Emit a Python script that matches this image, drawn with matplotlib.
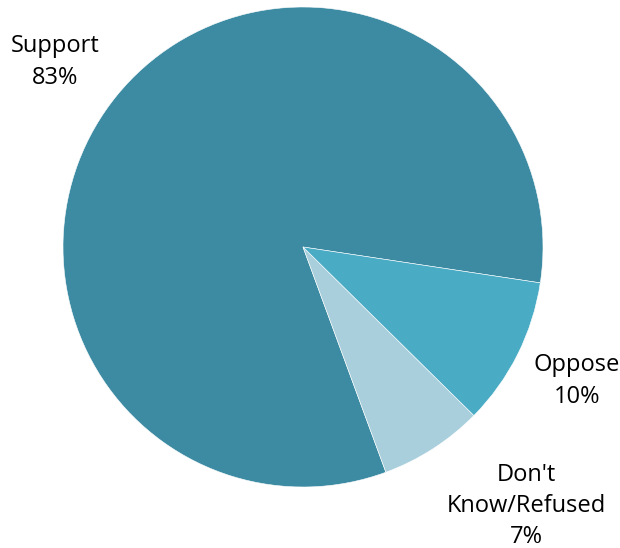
import matplotlib
matplotlib.use("Agg")
import matplotlib.pyplot as plt

plt.rcParams['font.family'] = ['Open Sans', 'DejaVu Sans']

categories = ["Support", "Don't\nKnow/Refused", "Oppose"]
shares = [83, 7, 10]
colors = ["#3c8ba2", "#a9cfdc", "#4aabc5"]

fig = plt.figure(figsize=(6.2, 5.48), dpi=100)
# pie sits in a square box, radius 240 px, centred at (303, 247) from top-left
ax = fig.add_axes([63 / 620, 61 / 548, 480 / 620, 480 / 548])
ax.pie(shares, colors=colors, startangle=-8.6, counterclock=True,
       radius=1.0, wedgeprops=dict(edgecolor="white", linewidth=0.4))
ax.set_xlim(-1, 1)
ax.set_ylim(-1, 1)
ax.set_aspect("equal")
ax.axis("off")


def px(x, y):
    return (x - 303) / 240, (247 - y) / 240


label_pos = [px(55.5, 62), px(526.5, 506), px(577, 381)]
for name, val, (lx, ly) in zip(categories, shares, label_pos):
    ax.text(lx, ly, f"{name}\n{val}%", ha="center", va="center",
            fontsize=17, linespacing=1.4, clip_on=False)

fig.savefig("out.png", dpi=100)
